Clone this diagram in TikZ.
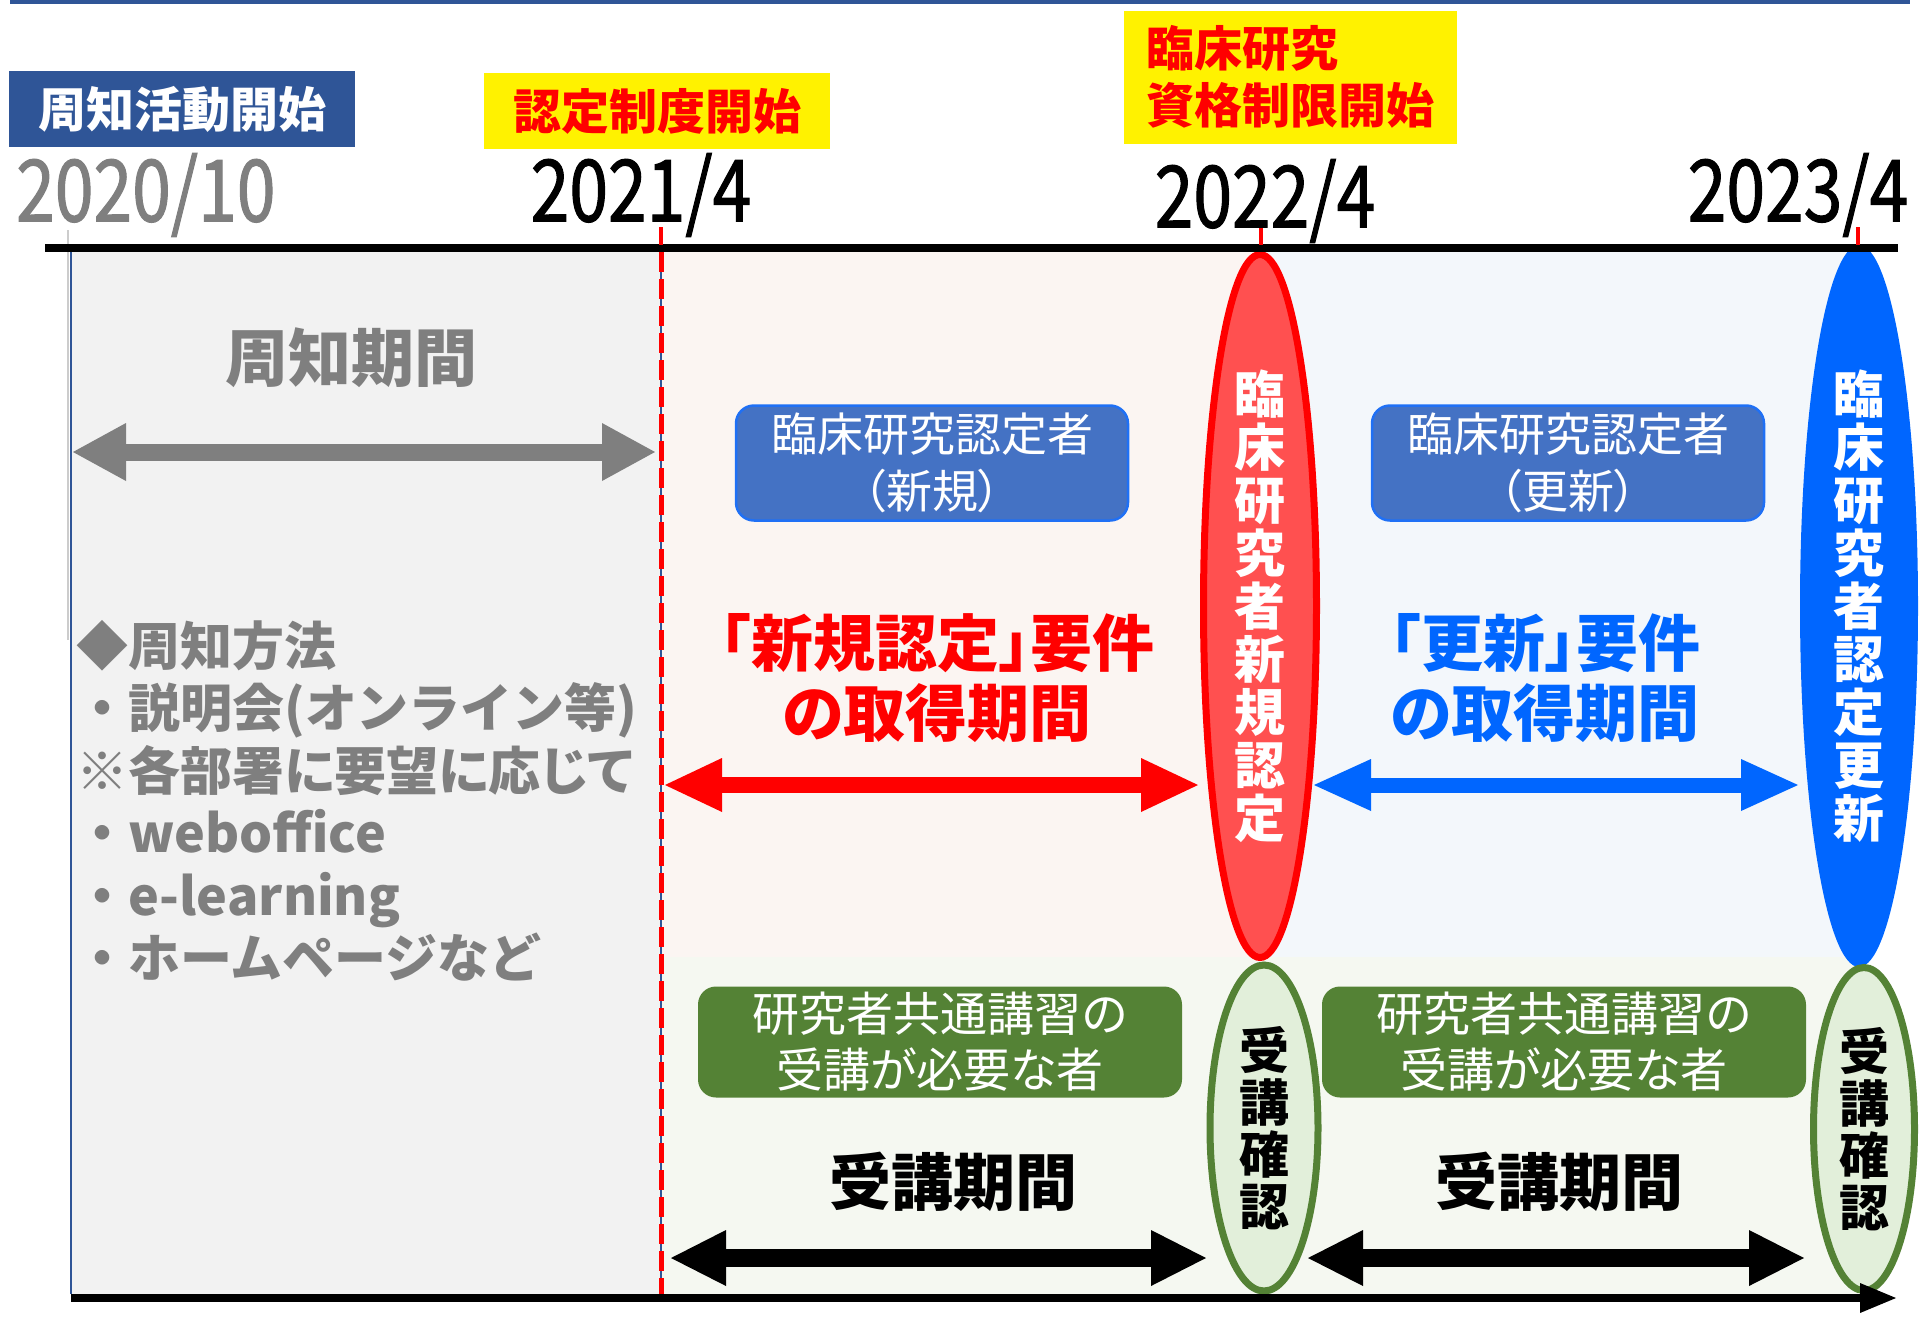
\documentclass[tikz,border=0pt]{standalone}
\usepackage{fontspec}
\usetikzlibrary{arrows.meta,shapes.geometric}
\setmainfont{Noto Sans CJK JP}
\newfontfamily\jpprop{Noto Sans CJK JP}[RawFeature=+palt]
\newfontfamily\jpnarrow{Noto Sans CJK JP}[FakeStretch=0.81, FakeBold=1.2]
\definecolor{navy}{HTML}{2F5597}
\definecolor{txtgray}{HTML}{7F7F7F}
\definecolor{bgray}{HTML}{F2F2F2}
\definecolor{bpink}{HTML}{FBF5F2}
\definecolor{bblue}{HTML}{F3F7FB}
\definecolor{bgreen}{HTML}{F5F8F1}
\definecolor{boxblue}{HTML}{4472C4}
\definecolor{edgeblue}{HTML}{1F70F5}
\definecolor{vivblue}{HTML}{0066FF}
\definecolor{ellred}{HTML}{FF5050}
\definecolor{leaf}{HTML}{548235}
\definecolor{paleleaf}{HTML}{E2EFDA}
\tikzset{
 datelbl/.style={font=\jpnarrow\fontsize{86}{90}\selectfont, inner sep=0pt},
 eventbox/.style={fill=yellow, text=red, font=\bfseries\fontsize{48}{57}\selectfont, align=left},
 infobox/.style={rounded corners=18pt, text=white, align=center,
   font=\jpprop\fontsize{46}{57}\selectfont},
 bigtext/.style={align=center, font=\jpprop\bfseries\fontsize{62}{70}\selectfont},
 vtext/.style={ellipse, inner sep=0pt, align=center},
 twoway/.style n args={3}{line width=#1,
   {Triangle[width=#2,length=#3,line width=0pt]}-{Triangle[width=#2,length=#3,line width=0pt]}},
}

\begin{document}
\begin{tikzpicture}[x=1pt,y=-1pt]
\useasboundingbox (0,0) rectangle (1920,1317);

\fill[bgray] (71,251) rectangle (661,1294);
\fill[bpink] (661,251) rectangle (1261,957);
\fill[bblue] (1261,251) rectangle (1858,957);
\fill[bgreen] (661,957) rectangle (1858,1294);
\draw[navy, line width=1.5pt] (71,1294) -- (71,251) -- (661,251) -- (661,1294);
\draw[navy, line width=4pt] (10,2) -- (1910,2);
\draw[gray!40, line width=2pt] (68,230) -- (68,640);

\node[vtext, fill=ellred, draw=red, line width=7pt, text=white,
  font=\bfseries\fontsize{51}{53}\selectfont,
  minimum width=113pt, minimum height=703pt] (newcert) at (1260,606)
  {臨\\床\\研\\究\\者\\新\\規\\認\\定};
\node[vtext, fill=vivblue, text=white,
  font=\bfseries\fontsize{51}{53}\selectfont,
  minimum width=118pt, minimum height=722pt] (renew) at (1859,606)
  {臨\\床\\研\\究\\者\\認\\定\\更\\新};
\node[vtext, fill=paleleaf, draw=leaf, line width=7pt,
  font=\bfseries\fontsize{50}{52}\selectfont,
  minimum width=108pt, minimum height=326pt] (check1) at (1264,1128)
  {受\\講\\確\\認};
\node[vtext, fill=paleleaf, draw=leaf, line width=7pt,
  font=\bfseries\fontsize{50}{52}\selectfont,
  minimum width=101pt, minimum height=323pt] (check2) at (1864,1129)
  {受\\講\\確\\認};

\draw[line width=8pt] (45,248) -- (1898,248);
\foreach \x in {661,1261,1858}
  \draw[red, line width=4pt] (\x,227) -- (\x,245);
\draw[red, line width=5pt, dash pattern=on 20pt off 7pt] (661,252) -- (661,1294);
\draw[line width=8pt, -{Triangle[width=30pt,length=36pt,line width=0pt]}] (71,1298) -- (1896,1298);

\node[fill=navy, text=white, font=\bfseries\fontsize{48}{57}\selectfont,
  minimum width=346pt, minimum height=76pt] (notice) at (182,109) {周知活動開始};
\node[eventbox, minimum width=346pt, minimum height=76pt] (launch) at (657,111) {認定制度開始};
\node[eventbox, minimum width=333pt, minimum height=133pt] (limit) at (1290,77) {臨床研究\\資格制限開始};

\node[datelbl, text=txtgray, anchor=west] (d20) at (16,195) {2020/10};
\node[datelbl] (d21) at (641,195) {2021/4};
\node[datelbl] (d22) at (1265,201) {2022/4};
\node[datelbl] (d23) at (1798,195) {2023/4};

\node[text=txtgray, font=\bfseries\fontsize{63}{70}\selectfont] (noticeper) at (351,358) {周知期間};
\coordinate (gl) at (73,452);
\coordinate (gr) at (655,452);
\draw[txtgray, twoway={17pt}{58pt}{53pt}] (gl) -- (gr);

\node[anchor=north west, align=left, text=txtgray, inner sep=0pt,
  font=\bfseries\fontsize{52}{62.5}\selectfont] (methods) at (76,620)
  {◆周知方法\\・説明会(オンライン等)\\{\jpprop ※各部署に要望に応じて}\\・weboffice\\・e-learning\\・ホームページなど};

\node[infobox, fill=boxblue, draw=edgeblue, line width=2.5pt,
  minimum width=392pt, minimum height=115pt] (newholder) at (932,463) {臨床研究認定者\\（新規）};
\node[infobox, fill=boxblue, draw=edgeblue, line width=2.5pt,
  minimum width=392pt, minimum height=115pt] (renholder) at (1568,463) {臨床研究認定者\\（更新）};

\node[bigtext, text=red] (newreq) at (937,678) {「新規認定」要件\\の取得期間};
\node[bigtext, text=vivblue] (renreq) at (1545,678) {「更新」要件\\の取得期間};

\coordinate (ra) at (665,785);
\coordinate (rb) at (1198,785);
\draw[red, twoway={16pt}{54pt}{57pt}] (ra) -- (rb);
\coordinate (ba) at (1314,785);
\coordinate (bb) at (1798,785);
\draw[vivblue, twoway={15pt}{52pt}{57pt}] (ba) -- (bb);

\node[infobox, fill=leaf, font=\jpprop\fontsize{47}{56}\selectfont,
  minimum width=484pt, minimum height=111pt] (course1) at (940,1042) {研究者共通講習の\\受講が必要な者};
\node[infobox, fill=leaf, font=\jpprop\fontsize{47}{56}\selectfont,
  minimum width=484pt, minimum height=111pt] (course2) at (1564,1042) {研究者共通講習の\\受講が必要な者};

\node[font=\bfseries\fontsize{62}{70}\selectfont] (take1) at (953,1182) {受講期間};
\node[font=\bfseries\fontsize{62}{70}\selectfont] (take2) at (1559,1182) {受講期間};

\coordinate (ka) at (671,1258);
\coordinate (kb) at (1206,1258);
\draw[twoway={18pt}{56pt}{55pt}] (ka) -- (kb);
\coordinate (kc) at (1308,1258);
\coordinate (kd) at (1804,1258);
\draw[twoway={18pt}{56pt}{55pt}] (kc) -- (kd);
\end{tikzpicture}
\end{document}
